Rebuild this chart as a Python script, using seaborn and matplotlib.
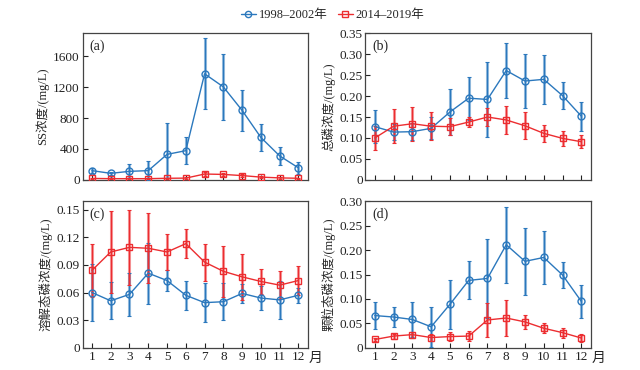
import numpy as np
import pandas as pd
import matplotlib
matplotlib.use("Agg")
import matplotlib.pyplot as plt
from matplotlib.ticker import FuncFormatter
from matplotlib.lines import Line2D
import seaborn as sns

# Monthly data
months = list(range(1, 13))
period_a = "1998–2002年"
period_b = "2014–2019年"

# (a) SS concentration
ss_old = [119, 84, 110, 119, 330, 378, 1375, 1205, 900, 549, 310, 155]
ss_old_err = [35, 20, 90, 123, 405, 178, 460, 430, 268, 180, 120, 78]
ss_new = [18, 15, 15, 15, 20, 22, 75, 70, 55, 35, 25, 20]
ss_new_err = [12, 10, 10, 10, 10, 12, 20, 18, 15, 12, 10, 8]

# (b) total phosphorus
tp_old = [0.127, 0.114, 0.115, 0.123, 0.162, 0.195, 0.192, 0.261, 0.236, 0.240, 0.201, 0.152]
tp_old_err = [0.039, 0.020, 0.020, 0.026, 0.056, 0.051, 0.089, 0.066, 0.064, 0.058, 0.033, 0.035]
tp_new = [0.100, 0.128, 0.134, 0.128, 0.127, 0.138, 0.150, 0.143, 0.129, 0.111, 0.099, 0.091]
tp_new_err = [0.028, 0.041, 0.041, 0.033, 0.021, 0.011, 0.022, 0.033, 0.032, 0.020, 0.018, 0.016]

# (c) dissolved phosphorus
dp_old = [0.060, 0.051, 0.058, 0.081, 0.073, 0.057, 0.049, 0.050, 0.059, 0.054, 0.052, 0.057]
dp_old_err = [0.031, 0.020, 0.023, 0.033, 0.011, 0.016, 0.021, 0.020, 0.010, 0.013, 0.021, 0.008]
dp_new = [0.084, 0.104, 0.109, 0.108, 0.104, 0.113, 0.093, 0.083, 0.077, 0.072, 0.068, 0.073]
dp_new_err = [0.029, 0.044, 0.041, 0.038, 0.020, 0.016, 0.020, 0.028, 0.025, 0.014, 0.015, 0.016]

# (d) particulate phosphorus
pp_old = [0.066, 0.063, 0.058, 0.043, 0.089, 0.138, 0.142, 0.211, 0.177, 0.185, 0.149, 0.095]
pp_old_err = [0.028, 0.021, 0.035, 0.041, 0.050, 0.039, 0.080, 0.078, 0.069, 0.055, 0.026, 0.034]
pp_new = [0.017, 0.024, 0.027, 0.021, 0.023, 0.024, 0.057, 0.061, 0.053, 0.040, 0.031, 0.020]
pp_new_err = [0.003, 0.005, 0.006, 0.008, 0.010, 0.010, 0.034, 0.036, 0.015, 0.010, 0.010, 0.008]

sns.set_style("ticks")
plt.rcParams["font.family"] = ["Liberation Serif", "Noto Sans CJK SC"]
plt.rcParams["axes.unicode_minus"] = False

blue = "#2b78bd"
red = "#ec2d30"

fig = plt.figure(figsize=(6.4, 3.7), dpi=100)
w, h = 0.352, 0.396
positions = {
    "a": [0.129, 0.514, w, h],
    "b": [0.571, 0.514, w, h],
    "c": [0.129, 0.060, w, h],
    "d": [0.571, 0.060, w, h],
}

panels = [
    ("a", "SS浓度/(mg/L)", ss_old, ss_old_err, ss_new, ss_new_err, 1900, [0, 400, 800, 1200, 1600]),
    ("b", "总磷浓度/(mg/L)", tp_old, tp_old_err, tp_new, tp_new_err, 0.35, np.arange(0, 0.351, 0.05)),
    ("c", "溶解态磷浓度/(mg/L)", dp_old, dp_old_err, dp_new, dp_new_err, 0.159, np.arange(0, 0.151, 0.03)),
    ("d", "颗粒态磷浓度/(mg/L)", pp_old, pp_old_err, pp_new, pp_new_err, 0.30, np.arange(0, 0.301, 0.05)),
]


def fmt_int(v, pos):
    return "0" if abs(v) < 1e-9 else f"{v:.0f}"


def fmt_dec(v, pos):
    return "0" if abs(v) < 1e-9 else f"{v:.2f}"


for key, ylabel, old, old_err, new, new_err, ytop, yticks in panels:
    ax = fig.add_axes(positions[key])
    series = [(old, old_err, blue, "o", 5.0), (new, new_err, red, "s", 4.6)]
    for vals, errs, col, mk, ms in series:
        ax.errorbar(months, vals, yerr=errs, fmt="none", ecolor=col,
                    elinewidth=2.2, alpha=0.5, capsize=0, zorder=2)
        ax.errorbar(months, vals, yerr=errs, fmt="none", ecolor=col,
                    elinewidth=0.8, capsize=1.5, capthick=0.8, zorder=3)
        df = pd.DataFrame({"month": months, "value": vals})
        sns.lineplot(data=df, x="month", y="value", ax=ax, color=col, lw=1.0,
                     marker=mk, ms=ms, mfc="none", mec=col, mew=1.0, zorder=4)
    ax.set_xlim(0.5, 12.5)
    ax.set_ylim(0, ytop)
    ax.set_xticks(months)
    ax.set_yticks(yticks)
    ax.yaxis.set_major_formatter(FuncFormatter(fmt_int if key == "a" else fmt_dec))
    ax.tick_params(direction="in", length=3.5, width=0.8, labelsize=9.5, pad=2,
                   colors="#222222")
    for sp in ax.spines.values():
        sp.set_linewidth(0.9)
        sp.set_color("#444444")
    if key in ("a", "b"):
        ax.set_xticklabels([])
    else:
        ax.text(1.005, -0.07, "月", transform=ax.transAxes, fontsize=10,
                ha="left", va="center")
    ax.set_xlabel("")
    ax.set_ylabel(ylabel, fontsize=9, labelpad=3)
    ax.text(0.03, 0.96, f"({key})", transform=ax.transAxes, fontsize=10,
            ha="left", va="top")

handles = [
    Line2D([], [], color=blue, lw=1.0, marker="o", ms=4.5, mfc="none", mec=blue),
    Line2D([], [], color=red, lw=1.0, marker="s", ms=4.2, mfc="none", mec=red),
]
fig.legend(handles, [period_a, period_b], loc="upper center", ncol=2,
           bbox_to_anchor=(0.52, 1.005), frameon=False, fontsize=9,
           handlelength=1.2, handletextpad=0.25, columnspacing=0.8)

fig.savefig("out.png", dpi=100)
